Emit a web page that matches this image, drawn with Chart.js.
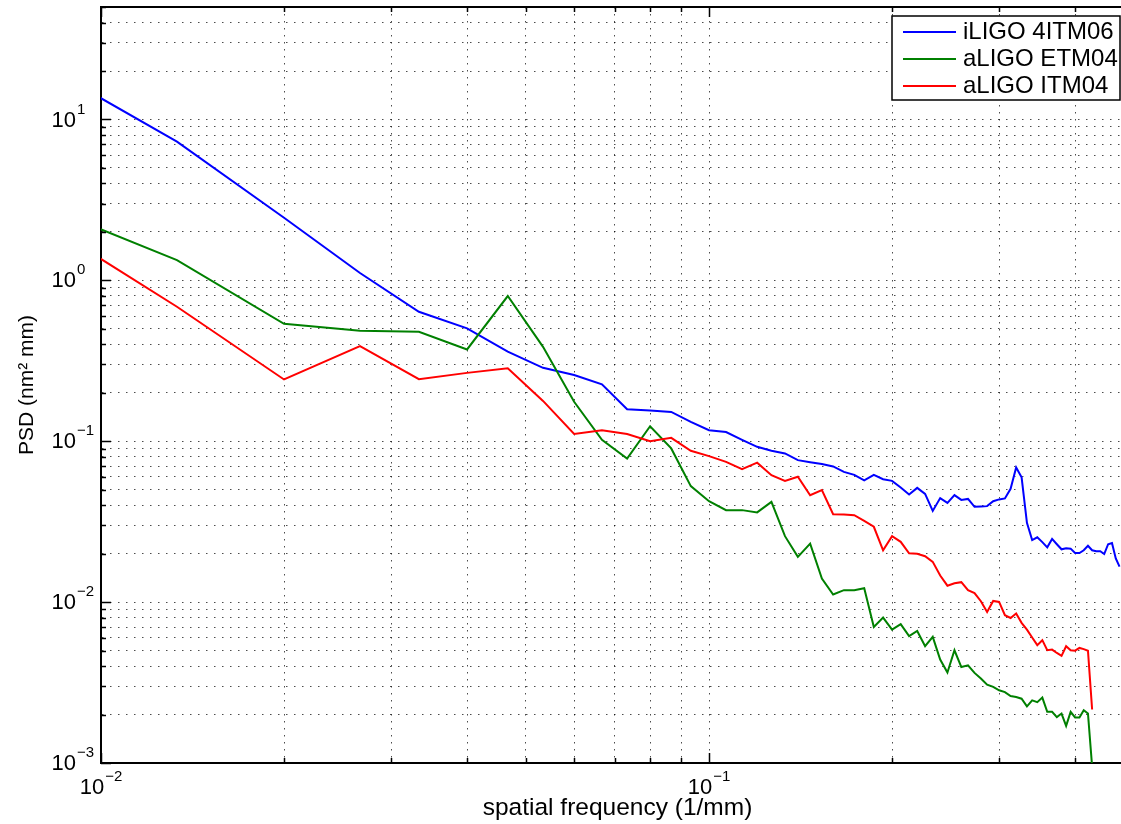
<!DOCTYPE html>
<html>
<head>
<meta charset="utf-8">
<script src="https://cdn.jsdelivr.net/npm/chart.js@4.4.1/dist/chart.umd.min.js"></script>
<style>
  html, body { margin: 0; padding: 0; background: #fff; overflow: hidden; }
  canvas { display: block; }
</style>
</head>
<body>
<canvas id="psdChart" width="1140" height="824"></canvas>
<script>
// spatial frequency samples (1/mm)
const freq = [
  0.006667, 0.013333, 0.02, 0.026667, 0.033333, 0.04, 0.046667, 0.053333, 0.06, 0.066667,
  0.073333, 0.08, 0.086667, 0.093333, 0.1, 0.106667, 0.113333, 0.12, 0.126667, 0.133333,
  0.14, 0.146667, 0.153333, 0.16, 0.166667, 0.173333, 0.18, 0.186667, 0.193333, 0.2,
  0.206667, 0.213333, 0.22, 0.226667, 0.233333, 0.24, 0.246667, 0.253333, 0.26, 0.266667,
  0.273333, 0.28, 0.286667, 0.293333, 0.3, 0.306667, 0.313333, 0.32, 0.326667, 0.333333,
  0.34, 0.346667, 0.353333, 0.36, 0.366667, 0.373333, 0.38, 0.386667, 0.393333, 0.4,
  0.406667, 0.413333, 0.42, 0.426667, 0.433333, 0.44, 0.446667, 0.453333, 0.46, 0.466667,
  0.473333
];

const psdILIGO = [
  32.5, 7.28, 2.45, 1.11, 0.638, 0.503, 0.360, 0.286, 0.258, 0.226,
  0.158, 0.155, 0.152, 0.132, 0.117, 0.114, 0.102, 0.0923, 0.0872, 0.0840,
  0.0763, 0.0741, 0.0721, 0.0697, 0.0645, 0.0618, 0.0571, 0.0618, 0.0581, 0.0567,
  0.0516, 0.0467, 0.0513, 0.0471, 0.0369, 0.0443, 0.0414, 0.0462, 0.0432, 0.0438,
  0.0391, 0.0393, 0.0395, 0.0424, 0.0435, 0.0441, 0.0506, 0.0687, 0.0596, 0.0311,
  0.0243, 0.0253, 0.0236, 0.0219, 0.0247, 0.0229, 0.0213, 0.0216, 0.0215, 0.0202,
  0.0202, 0.0210, 0.0224, 0.0210, 0.0207, 0.0207, 0.0199, 0.0229, 0.0233, 0.0187,
  0.0166
];

const psdETM = [
  3.86, 1.337, 0.537, 0.486, 0.479, 0.372, 0.799, 0.386, 0.176, 0.102,
  0.0781, 0.124, 0.0902, 0.0526, 0.0424, 0.0373, 0.0373, 0.0361, 0.0420, 0.0257,
  0.0191, 0.0231, 0.0140, 0.01115, 0.01186, 0.01186, 0.0122, 0.00701, 0.00802, 0.00675,
  0.00729, 0.00614, 0.00662, 0.00532, 0.00608, 0.00440, 0.00365, 0.00502, 0.00395, 0.00405,
  0.00363, 0.00335, 0.00307, 0.00297, 0.00283, 0.00276, 0.00261, 0.00257, 0.00251, 0.00225,
  0.00245, 0.00239, 0.00255, 0.00208, 0.00208, 0.00193, 0.00203, 0.00170, 0.00208, 0.00192,
  0.00192, 0.00213, 0.00203, 0.00095
];

const psdITM = [
  3.56, 0.685, 0.242, 0.390, 0.243, 0.266, 0.284, 0.178, 0.111, 0.117,
  0.111, 0.100, 0.105, 0.0872, 0.0808, 0.0744, 0.0671, 0.0736, 0.0615, 0.0567,
  0.0601, 0.0462, 0.0497, 0.0352, 0.0351, 0.0347, 0.0320, 0.0294, 0.0210, 0.0257,
  0.0237, 0.0201, 0.0200, 0.0193, 0.0178, 0.01463, 0.01265, 0.01311, 0.01330, 0.01186,
  0.01139, 0.01013, 0.00869, 0.01017, 0.01003, 0.00829, 0.00797, 0.00849, 0.00743, 0.00675,
  0.00603, 0.00540, 0.00580, 0.00502, 0.00507, 0.00483, 0.00463, 0.00532, 0.00502, 0.00499,
  0.00519, 0.00510, 0.00499, 0.00215
];

const seriesNames = ["iLIGO 4ITM06", "aLIGO ETM04", "aLIGO ITM04"];
const seriesColors = ["#0000ff", "#008000", "#ff0000"];

// grid / tick positions
const xGridTicks = [0.01, 0.02, 0.03, 0.04, 0.05, 0.06, 0.07, 0.08, 0.09, 0.1, 0.2, 0.3, 0.4, 0.5];
const yGridTicks = [
  0.001, 0.002, 0.003, 0.004, 0.005, 0.006, 0.007, 0.008, 0.009,
  0.01, 0.02, 0.03, 0.04, 0.05, 0.06, 0.07, 0.08, 0.09,
  0.1, 0.2, 0.3, 0.4, 0.5, 0.6, 0.7, 0.8, 0.9,
  1, 2, 3, 4, 5, 6, 7, 8, 9,
  10, 20, 30, 40, 50
];
const xMajorTicks = [0.01, 0.1];
const xTickExp = ["\u22122", "\u22121"];
const yMajorTicks = [0.001, 0.01, 0.1, 1, 10];
const yTickExp = ["\u22123", "\u22122", "\u22121", "0", "1"];

const FONT = '"Liberation Sans", Arial, Helvetica, sans-serif';

function toPoints(values) {
  return values.map((v, i) => ({ x: freq[i], y: v }));
}

// inward ticks, top frame, exponent labels and boxed legend (MATLAB look)
const matlabAxes = {
  id: "matlabAxes",
  afterDraw(chart) {
    const { ctx, chartArea: a, scales } = chart;
    const xs = scales.x, ys = scales.y;
    ctx.save();
    ctx.strokeStyle = "#000";

    ctx.lineWidth = 2;
    ctx.beginPath();
    ctx.moveTo(a.left - 1, a.top);
    ctx.lineTo(a.right, a.top);
    ctx.stroke();

    ctx.lineWidth = 1.5;
    xGridTicks.forEach(v => {
      const px = Math.round(xs.getPixelForValue(v)) + 0.5;
      const len = xMajorTicks.includes(v) ? 10 : 5;
      ctx.beginPath();
      ctx.moveTo(px, a.bottom); ctx.lineTo(px, a.bottom - len);
      ctx.moveTo(px, a.top); ctx.lineTo(px, a.top + len);
      ctx.stroke();
    });
    yGridTicks.forEach(v => {
      const py = Math.round(ys.getPixelForValue(v)) + 0.5;
      const len = yMajorTicks.includes(v) ? 10 : 5;
      ctx.beginPath();
      ctx.moveTo(a.left, py); ctx.lineTo(a.left + len, py);
      ctx.moveTo(a.right, py); ctx.lineTo(a.right - len, py);
      ctx.stroke();
    });

    const base = "22px " + FONT;
    const sup = "15px " + FONT;
    ctx.fillStyle = "#000";
    ctx.textBaseline = "middle";
    ctx.textAlign = "left";

    xMajorTicks.forEach((v, i) => {
      const px = xs.getPixelForValue(v);
      ctx.font = base;
      const w1 = ctx.measureText("10").width;
      ctx.font = sup;
      const w2 = ctx.measureText(xTickExp[i]).width;
      const start = px - (w1 + 1 + w2) / 2;
      ctx.font = base;
      ctx.fillText("10", start, a.bottom + 25);
      ctx.font = sup;
      ctx.fillText(xTickExp[i], start + w1 + 1, a.bottom + 14);
    });

    yMajorTicks.forEach((v, i) => {
      const py = ys.getPixelForValue(v);
      ctx.font = base;
      const w1 = ctx.measureText("10").width;
      ctx.fillText("10", a.left - 25 - w1, py + 1);
      ctx.font = sup;
      ctx.fillText(yTickExp[i], a.left - 24, py - 10);
    });

    // legend box
    const lx = a.right - 242, ly = a.top + 9, lw = 228, lh = 84;
    ctx.fillStyle = "#fff";
    ctx.fillRect(lx, ly, lw, lh);
    ctx.lineWidth = 1.5;
    ctx.strokeStyle = "#000";
    ctx.strokeRect(lx, ly, lw, lh);
    ctx.font = "24px " + FONT;
    chart.data.datasets.forEach((ds, i) => {
      const yy = ly + 16 + i * 27;
      ctx.strokeStyle = ds.borderColor;
      ctx.lineWidth = 2;
      ctx.beginPath();
      ctx.moveTo(lx + 11, yy); ctx.lineTo(lx + 64, yy);
      ctx.stroke();
      ctx.fillStyle = "#000";
      ctx.fillText(ds.label, lx + 71, yy);
    });
    ctx.restore();
  }
};

const seriesValues = [psdILIGO, psdETM, psdITM];

new Chart(document.getElementById("psdChart").getContext("2d"), {
  type: "line",
  data: {
    datasets: seriesValues.map((vals, i) => ({
      label: seriesNames[i],
      data: toPoints(vals),
      borderColor: seriesColors[i],
      borderWidth: 2,
      pointRadius: 0,
      tension: 0,
      fill: false,
      order: 3 - i
    }))
  },
  options: {
    responsive: false,
    animation: false,
    devicePixelRatio: 1,
    layout: { padding: { left: 0, right: 6, top: 7, bottom: 0 } },
    plugins: { legend: { display: false }, tooltip: { enabled: false } },
    scales: {
      x: {
        type: "logarithmic",
        min: 0.01,
        max: 0.5,
        afterFit: s => { s.height = 61; },
        afterBuildTicks: s => { s.ticks = xGridTicks.map(v => ({ value: v })); },
        ticks: { display: false },
        grid: { color: "rgba(0,0,0,0.7)", lineWidth: 1, drawTicks: false },
        border: { display: true, color: "#000", width: 2, dash: [1.5, 5.5] },
        title: {
          display: true,
          text: "spatial frequency (1/mm)",
          color: "#000",
          font: { family: FONT, size: 24.5 },
          padding: { top: 0, bottom: 1 }
        }
      },
      y: {
        type: "logarithmic",
        min: 0.001,
        max: 50,
        afterFit: s => { s.width = 101; },
        afterBuildTicks: s => { s.ticks = yGridTicks.map(v => ({ value: v })); },
        ticks: { display: false },
        grid: { color: "rgba(0,0,0,0.7)", lineWidth: 1, drawTicks: false },
        border: { display: true, color: "#000", width: 2, dash: [1.5, 6.5] },
        title: {
          display: true,
          text: "PSD (nm\u00B2 mm)",
          color: "#000",
          font: { family: FONT, size: 21 },
          padding: { top: 15, bottom: 0 }
        }
      }
    }
  },
  plugins: [matlabAxes]
});
</script>
</body>
</html>
